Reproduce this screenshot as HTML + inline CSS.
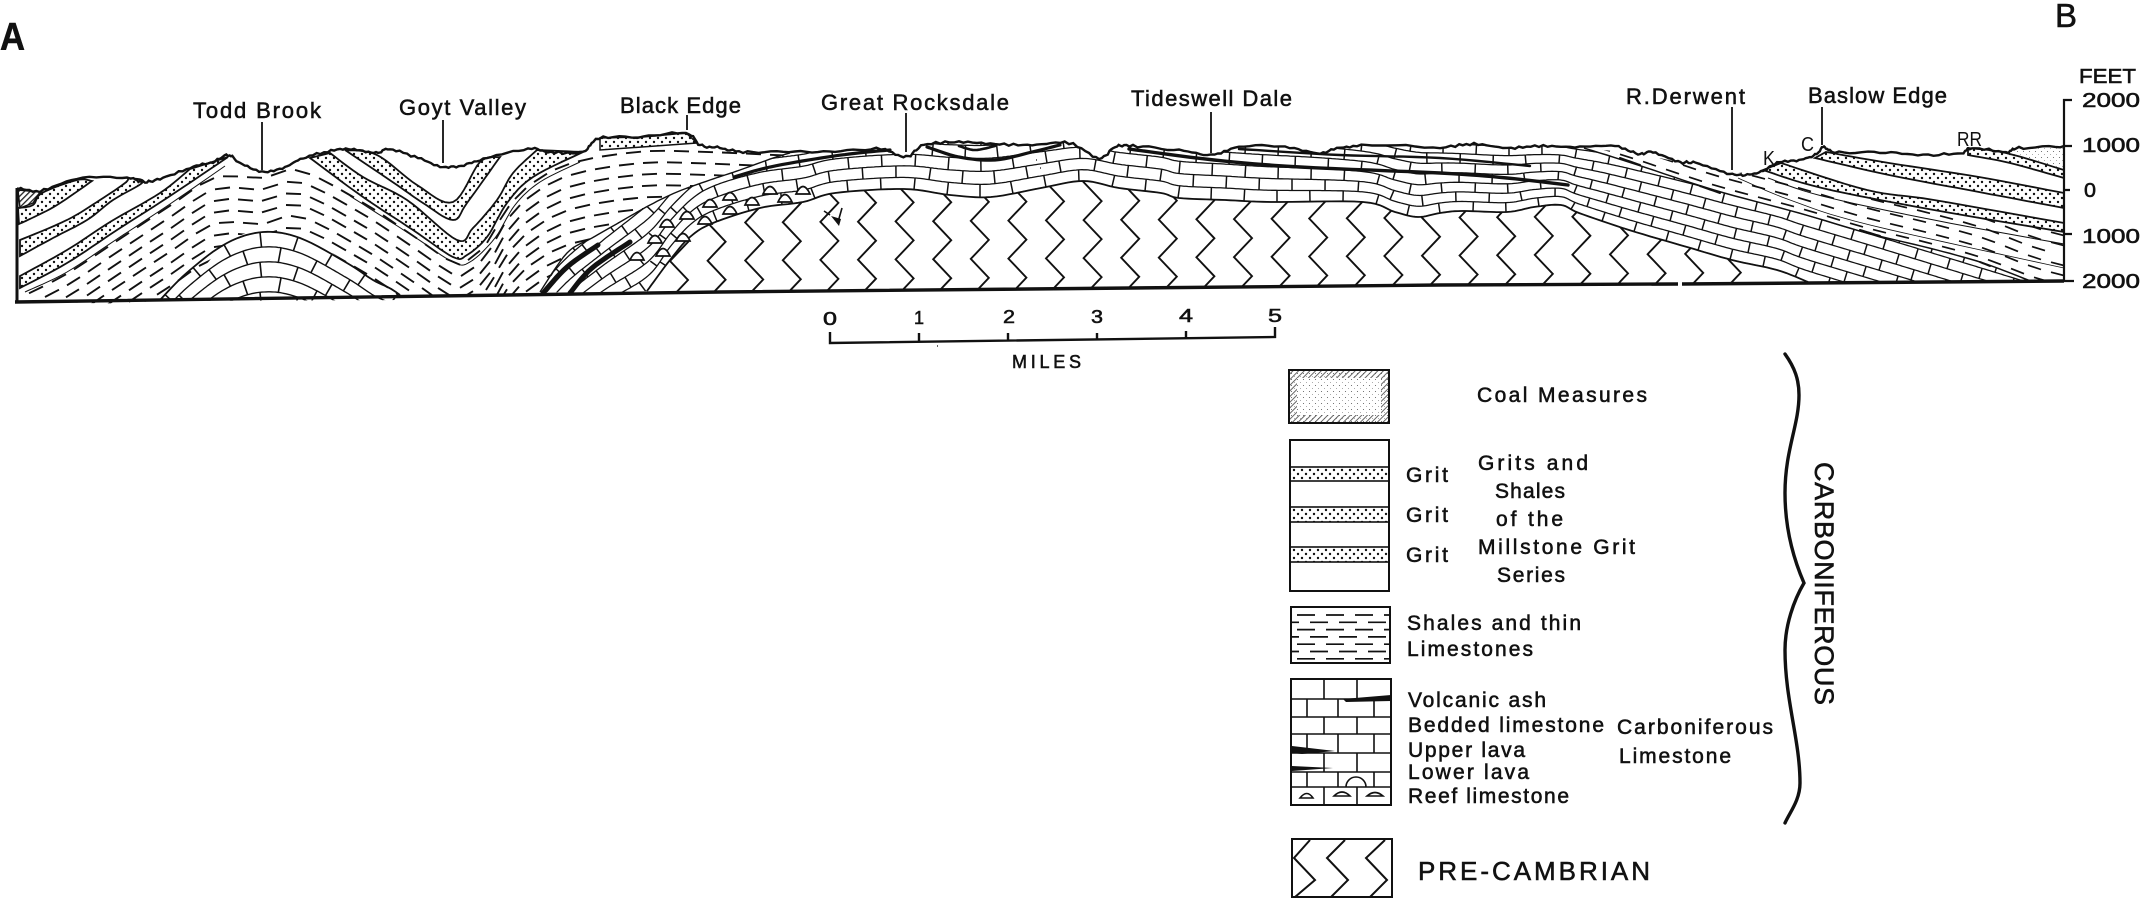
<!DOCTYPE html>
<html>
<head>
<meta charset="utf-8">
<title>Geological section A-B</title>
<style>
html,body{margin:0;padding:0;background:#fff}
svg{display:block}
text{font-family:"Liberation Sans",sans-serif;fill:#111;stroke:#111;stroke-width:.55}
</style>
</head>
<body>
<svg id="s" xmlns="http://www.w3.org/2000/svg" width="2144" height="900" viewBox="0 0 2144 900">
<defs>
<pattern id="dots" width="8" height="8" patternUnits="userSpaceOnUse"><circle cx="2" cy="2" r="1.2" fill="#111"/><circle cx="6" cy="6" r="1.2" fill="#111"/></pattern>
<pattern id="fine" width="6" height="6" patternUnits="userSpaceOnUse"><circle cx="1.5" cy="1.5" r=".55" fill="#555"/><circle cx="4.5" cy="4.5" r=".45" fill="#888"/></pattern>
<pattern id="hatch" width="4" height="4" patternUnits="userSpaceOnUse" patternTransform="rotate(-45)"><rect width="4" height="1.3" fill="#222"/></pattern>
<pattern id="hatchL" width="4" height="4" patternUnits="userSpaceOnUse" patternTransform="rotate(-45)"><rect width="4" height=".9" fill="#555"/></pattern>
</defs>
<g id="geo"></g>

<g fill="none" stroke="#111" stroke-width="1.8">
<path d="M262 122V170M443 120V163M687 115V130M906 113V152M1211 112V153M1732 107V170M1822 107V145"/>
<path d="M2072 100H2064V282M2064 146H2072M2064 190H2070M2064 234H2072M2064 281H2074" stroke-width="2.2"/>
<path d="M830 332V343L1275 337V327M919 333V341M1008 333V340M1097 333V339M1186 331V338" stroke-width="2.4"/>
</g>

<text x="0" y="50" font-size="39" font-weight="bold" textLength="25" lengthAdjust="spacingAndGlyphs">A</text>
<text x="2055" y="27" font-size="33" textLength="22" lengthAdjust="spacingAndGlyphs">B</text>
<g font-size="22">
<text x="193" y="118" textLength="128" lengthAdjust="spacing">Todd Brook</text>
<text x="399" y="115" textLength="127" lengthAdjust="spacing">Goyt Valley</text>
<text x="620" y="113" textLength="121" lengthAdjust="spacing">Black Edge</text>
<text x="821" y="110" textLength="188" lengthAdjust="spacing">Great Rocksdale</text>
<text x="1131" y="106" textLength="161" lengthAdjust="spacing">Tideswell Dale</text>
<text x="1626" y="104" textLength="119" lengthAdjust="spacing">R.Derwent</text>
<text x="1808" y="103" textLength="139" lengthAdjust="spacing">Baslow Edge</text>
</g>
<text x="1763" y="165" font-size="20" style="stroke-width:0" textLength="12" lengthAdjust="spacingAndGlyphs">K</text>
<text x="1801" y="151" font-size="20" style="stroke-width:0" textLength="13" lengthAdjust="spacingAndGlyphs">C</text>
<text x="1957" y="146" font-size="20" style="stroke-width:0" textLength="25" lengthAdjust="spacingAndGlyphs">RR</text>
<text x="2079" y="83" font-size="20" textLength="57" lengthAdjust="spacingAndGlyphs">FEET</text>
<text x="2082" y="107" font-size="20" textLength="58" lengthAdjust="spacingAndGlyphs">2000</text>
<text x="2082" y="152" font-size="20" textLength="58" lengthAdjust="spacingAndGlyphs">1000</text>
<text x="2084" y="197" font-size="20" textLength="12" lengthAdjust="spacingAndGlyphs">0</text>
<text x="2082" y="243" font-size="20" textLength="58" lengthAdjust="spacingAndGlyphs">1000</text>
<text x="2082" y="288" font-size="20" textLength="58" lengthAdjust="spacingAndGlyphs">2000</text>

<g font-size="18">
<text x="823" y="325" textLength="14" lengthAdjust="spacingAndGlyphs">0</text>
<text x="914" y="324" textLength="10" lengthAdjust="spacingAndGlyphs">1</text>
<text x="1003" y="323" textLength="12" lengthAdjust="spacingAndGlyphs">2</text>
<text x="1091" y="323" textLength="12" lengthAdjust="spacingAndGlyphs">3</text>
<text x="1179" y="322" textLength="14" lengthAdjust="spacingAndGlyphs">4</text>
<text x="1268" y="322" textLength="14" lengthAdjust="spacingAndGlyphs">5</text>
<text x="1012" y="368" textLength="69" lengthAdjust="spacing">MILES</text>
</g>

<g id="legend">
<rect x="1289" y="370" width="100" height="53" fill="url(#fine)"/>
<rect x="1293" y="374" width="92" height="45" fill="none" stroke="url(#hatchL)" stroke-width="8"/>
<rect x="1289" y="370" width="100" height="53" fill="none" stroke="#111" stroke-width="2"/>
<rect x="1290" y="440" width="99" height="151" fill="#fff" stroke="#111" stroke-width="2"/>
<g stroke="#111" stroke-width="1.6" fill="url(#dots)">
<rect x="1290" y="467" width="99" height="14"/>
<rect x="1290" y="507" width="99" height="15"/>
<rect x="1290" y="547" width="99" height="15"/>
</g>
<rect x="1291" y="607" width="99" height="56" fill="#fff" stroke="#111" stroke-width="2"/>
<rect x="1291" y="679" width="100" height="126" fill="#fff" stroke="#111" stroke-width="2"/>
<path fill="none" stroke="#111" stroke-width="1.6" d="M1291 699H1391M1291 717H1391M1291 734H1391M1291 753H1391M1291 772H1391M1291 787H1391
M1324 679V699M1357 679V699M1307 699V717M1338 699V717M1374 699V717M1324 717V734M1357 717V734M1307 734V753M1338 734V753M1374 734V753M1324 753V772M1357 753V772M1307 772V787M1338 772V787M1374 772V787M1324 787V805M1357 787V805
M1346 787A10 10 0 0 1 1366 787M1300 798Q1307 789 1313 798ZM1334 796Q1342 788 1350 796ZM1367 796Q1375 789 1383 796Z"/>
<path fill="#111" d="M1343 699L1391 695V701L1346 702ZM1292 746L1335 751L1302 754L1292 753ZM1292 766L1333 768L1292 771Z"/>
<rect x="1292" y="839" width="100" height="58" fill="#fff" stroke="#111" stroke-width="2"/>
<path fill="none" stroke="#111" stroke-width="2" d="M1310 840L1294 858L1315 880L1295 897M1345 840L1327 858L1348 880L1331 897M1385 840L1366 858L1387 880L1370 897"/>
<path fill="none" stroke="#111" stroke-width="3.4" stroke-linecap="round" d="M1785 354C1795 368 1799 380 1799 395C1799 425 1785 450 1785 493C1785 530 1794 560 1804 583C1794 600 1785 625 1785 650C1785 700 1800 740 1800 783C1800 800 1790 812 1785 823"/>
<g font-size="21">
<text x="1477" y="402" textLength="170" lengthAdjust="spacing">Coal Measures</text>
<text x="1478" y="470" textLength="110" lengthAdjust="spacing">Grits and</text>
<text x="1495" y="498" textLength="70" lengthAdjust="spacing">Shales</text>
<text x="1496" y="526" textLength="67" lengthAdjust="spacing">of the</text>
<text x="1478" y="554" textLength="157" lengthAdjust="spacing">Millstone Grit</text>
<text x="1497" y="582" textLength="68" lengthAdjust="spacing">Series</text>
<text x="1406" y="482" textLength="42" lengthAdjust="spacing">Grit</text>
<text x="1406" y="522" textLength="42" lengthAdjust="spacing">Grit</text>
<text x="1406" y="562" textLength="42" lengthAdjust="spacing">Grit</text>
<text x="1407" y="630" textLength="174" lengthAdjust="spacing">Shales and thin</text>
<text x="1407" y="656" textLength="126" lengthAdjust="spacing">Limestones</text>
<text x="1408" y="707" textLength="138" lengthAdjust="spacing">Volcanic ash</text>
<text x="1408" y="732" textLength="196" lengthAdjust="spacing">Bedded limestone</text>
<text x="1408" y="757" textLength="117" lengthAdjust="spacing">Upper lava</text>
<text x="1408" y="779" textLength="121" lengthAdjust="spacing">Lower lava</text>
<text x="1408" y="803" textLength="161" lengthAdjust="spacing">Reef limestone</text>
<text x="1617" y="734" textLength="156" lengthAdjust="spacing">Carboniferous</text>
<text x="1619" y="763" textLength="112" lengthAdjust="spacing">Limestone</text>
</g>
<text x="1418" y="880" font-size="26" textLength="232" lengthAdjust="spacing">PRE-CAMBRIAN</text>
<text transform="translate(1815,462) rotate(90)" font-size="27" textLength="243" lengthAdjust="spacing">CARBONIFEROUS</text>
</g>
</svg>
<script>
(function(){
var NS="http://www.w3.org/2000/svg",geo=document.getElementById("geo"),legend=document.getElementById("legend"),defs=document.querySelector("defs"),uid=0;
function cr(p){var o=[],n=p.length;for(var i=0;i<n-1;i++){var a=p[Math.max(i-1,0)],b=p[i],c=p[i+1],d=p[Math.min(i+2,n-1)];for(var j=0;j<8;j++){var t=j/8,t2=t*t,t3=t2*t;o.push([.5*(2*b[0]+(c[0]-a[0])*t+(2*a[0]-5*b[0]+4*c[0]-d[0])*t2+(3*b[0]-a[0]-3*c[0]+d[0])*t3),.5*(2*b[1]+(c[1]-a[1])*t+(2*a[1]-5*b[1]+4*c[1]-d[1])*t2+(3*b[1]-a[1]-3*c[1]+d[1])*t3)]);}}o.push(p[n-1]);return o;}
function F(p){var s=cr(p);return function(x){if(x<=s[0][0])return s[0][1];for(var i=1;i<s.length;i++){if(s[i][0]>=x){var a=s[i-1],b=s[i],w=b[0]-a[0];return w<=0?b[1]:a[1]+(b[1]-a[1])*(x-a[0])/w;}}return s[s.length-1][1];};}
function d(a,z){return "M"+a.map(function(q){return q[0].toFixed(1)+" "+q[1].toFixed(1);}).join("L")+(z?"Z":"");}
function P(dd,attr,parent){var e=document.createElementNS(NS,"path");e.setAttribute("d",dd);e.setAttribute("fill","none");for(var k in attr)e.setAttribute(k,attr[k]);(parent||geo).appendChild(e);return e;}
function clip(a){var c=document.createElementNS(NS,"clipPath"),id="c"+(++uid);c.setAttribute("id",id);var e=document.createElementNS(NS,"path");e.setAttribute("d",d(a,1));c.appendChild(e);defs.appendChild(c);return "url(#"+id+")";}
var K="#111";
var surface=[[17,188],[40,191],[77,179],[127,178],[143,182],[160,179],[190,168],[213,162],[228,155],[240,163],[262,172],[285,167],[303,158],[331,151],[354,149],[376,153],[390,149],[418,158],[443,167],[464,165],[487,158],[528,149],[551,152],[583,152],[599,138],[643,137],[686,133],[700,145],[720,148],[743,152],[789,152],[835,151],[881,149],[906,157],[924,145],[959,142],[995,144],[1032,145],[1069,143],[1099,158],[1115,147],[1133,146],[1179,150],[1211,155],[1239,147],[1285,147],[1317,153],[1340,148],[1372,145],[1440,147],[1474,144],[1507,148],[1539,146],[1575,147],[1615,146],[1638,154],[1653,152],[1678,162],[1696,163],[1727,173],[1745,175],[1763,171],[1777,163],[1799,160],[1815,155],[1824,147],[1835,152],[1880,152],[1923,155],[1961,153],[1972,148],[2006,152],[2019,148],[2064,147]];
var surfS=cr(surface);
function poly(a,attr){return P(d(a,1),attr);}
var dotted={fill:"url(#dots)",stroke:K,"stroke-width":1.8};
poly([[18,190],[40,192],[33,203],[20,208]],{fill:"url(#hatch)",stroke:K,"stroke-width":1.4});
poly([[2006,153],[2019,148],[2064,147],[2064,170]],{fill:"url(#fine)"});
poly(cr([[18,208],[33,205],[42,193],[77,180],[92,181]]).concat(cr([[92,181],[57,205],[32,218],[19,224]])),dotted);
poly(cr([[20,240],[67,220],[100,200],[125,183],[128,178]]).concat(cr([[128,178],[143,182],[113,200],[87,220],[53,238],[20,256]])),dotted);
poly(cr([[20,276],[67,250],[110,222],[160,193],[190,169]]).concat(cr([[190,169],[228,157]])).concat(cr([[228,157],[167,198],[117,230],[67,263],[20,288]])),dotted);
poly(cr([[345,150],[377,155],[417,185],[453,202],[480,162],[500,157]]).concat(cr([[500,157],[467,203],[453,220],[423,203],[397,185],[348,152]])),dotted);
poly(cr([[330,153],[363,177],[407,200],[457,240],[473,228],[497,200],[513,173],[537,150]]).concat(cr([[537,150],[583,152]])).concat(cr([[583,152],[533,177],[507,203],[487,237],[467,255],[453,257],[413,230],[363,197],[310,158]])),dotted);
poly([[600,150],[600,138],[643,137],[686,133],[697,143]],{fill:"url(#dots)",stroke:K,"stroke-width":1.5});
poly(cr([[1826,152],[1889,163],[1979,177],[2064,193]]).concat([[2064,208]]).concat(cr([[2064,208],[1979,192],[1889,175],[1815,158]])),dotted);
poly(cr([[1781,163],[1867,190],[1934,200],[2064,223]]).concat([[2064,232]]).concat(cr([[2064,232],[1934,210],[1822,188],[1763,170]])),dotted);
poly(cr([[1968,148],[2006,153],[2064,170]]).concat([[2064,178]]).concat(cr([[2064,178],[2010,163],[1968,155]])),dotted);

function dashes(top,bot,n,x0,x1,dl,gap,sw,cl){var dd="";for(var i=0;i<n;i++){var t=(i+.5)/n,acc=(i*7)%(dl+gap),on=false,px=x0,py=top(x0)+(bot(x0)-top(x0))*t,sx=0,sy=0;for(var x=x0+1;x<=x1;x++){var y=top(x)+(bot(x)-top(x))*t,ds=Math.hypot(x-px,y-py);acc+=ds;if(!on&&acc>=gap){on=true;acc=0;sx=x;sy=y;}else if(on&&acc>=dl){on=false;acc=0;dd+="M"+sx.toFixed(1)+" "+sy.toFixed(1)+"L"+x.toFixed(1)+" "+y.toFixed(1);}px=x;py=y;}}P(dd,{stroke:K,"stroke-width":sw,"clip-path":cl});}
function bricks(row,kA,kB,x0,x1,len,sw,cl){var dd="",jd="";for(var k=kA;k<=kB;k++){var acc=((k%2+2)%2)*len/2;var a=[];for(var x=x0;x<=x1;x+=2)a.push([x,row(k,x)]);dd+=d(a);if(k<kB){for(x=x0;x<x1;x++){var y=row(k,x),s=row(k,x+1)-y;acc+=Math.hypot(1,s);if(acc>=len){acc=0;var dy=row(k+1,x)-y,t=dy/(1+s*s);jd+="M"+x+" "+y.toFixed(1)+"L"+(x-s*t).toFixed(1)+" "+(y+t).toFixed(1);}}}}P(dd,{stroke:K,"stroke-width":sw*.85,"clip-path":cl});P(jd,{stroke:K,"stroke-width":sw,"clip-path":cl});}

var swTop=[[20,292],[67,268],[117,235],[170,200],[228,160],[250,170],[270,172],[300,160],[310,158],[363,197],[413,230],[453,257],[467,255],[487,237],[507,203],[533,177],[573,157],[583,152],[600,150],[697,145],[737,152],[790,153]];
var limW=[[540,292],[567,253],[592,238],[620,222],[650,205],[677,192],[710,180],[740,170],[773,158],[790,153]];
var swBot=[[20,300],[160,299],[227,243],[263,232],[313,243],[347,263],[373,280],[400,295],[460,297],[520,294]].concat(limW);
var stS=cr(swTop),sbS=cr(swBot);
var cW=clip(stS.concat(sbS.slice().reverse()));
var rowTop=F([[20,292],[67,268],[117,235],[170,200],[215,172],[262,172],[300,165],[363,197],[413,230],[453,257],[467,255],[487,237],[507,203],[533,177],[573,157],[640,146],[700,146],[790,150]]);
dashes(rowTop,function(x){return rowTop(x)+12*11.5;},12,20,790,15,9,1.9,cW);
P(d(cr([[25,292],[67,272],[117,239],[170,204],[225,166]])),{stroke:K,"stroke-width":1});
P(d(cr([[350,196],[413,236],[453,262],[470,262],[495,238],[515,205],[540,182],[580,162]])),{stroke:K,"stroke-width":1});
var archTop=[[120,345],[160,300],[190,270],[227,243],[263,232],[300,238],[347,263],[373,280],[400,295],[450,340]];
var A=F(archTop),aS=cr(archTop).filter(function(q){return q[0]>=160&&q[0]<=400;});
var cA=clip(aS.concat([[400,300],[160,301]]));
bricks(function(k,x){return A(x)+k*15;},0,6,140,430,38,1.6,cA);
P(d(aS),{stroke:K,"stroke-width":1.8});

var BLreal=[[647,291],[670,260],[690,237],[713,223],[760,208],[803,202],[835,193],[904,189],[950,195],[991,197],[1041,188],[1083,181],[1119,188],[1161,193],[1179,198],[1225,200],[1271,202],[1363,202],[1395,212],[1418,217],[1440,213],[1462,211],[1507,212],[1534,207],[1561,205],[1579,213],[1629,230],[1687,247],[1732,260],[1777,270],[1808,282]];
var BL=F([[520,400],[560,350],[600,318]].concat(BLreal).concat([[1900,310],[2070,362]]));
var TL=F([[520,290],[560,240],[600,205],[650,160],[680,135],[720,110],[800,95],[900,85],[1000,80],[1100,80],[1200,90],[1300,100],[1440,123],[1560,130],[1640,140],[1800,180],[2070,262]]);
var limE=[[1584,148],[1638,165],[1714,190],[1799,213],[1867,233],[1929,248],[1983,263],[2033,282]];
var midS=surfS.filter(function(q){return q[0]>790&&q[0]<1584;});
var limTopAll=cr(limW).concat(midS).concat(cr(limE));
var blS=cr(BLreal);
var cL=clip(limTopAll.concat([[1808,282]]).concat(blS.slice().reverse()).concat([[600,293]]));
bricks(function(k,x){return BL(x)+(TL(x)-BL(x))*k/9;},0,9,520,2060,33,1.5,cL);
P(d(cr(limW)),{stroke:K,"stroke-width":1.4});
P(d(cr(limE)),{stroke:K,"stroke-width":1.5});

var cP=clip(blS.concat([[1808,283],[1440,286],[720,293],[640,294]]));
var zz="";for(var k=0;k<=28;k++){var x0=670+37.6*k,off=(x0-670)*0.007,pts=[],L=true;for(var yy=147;yy<310;yy+=19){pts.push([L?x0:x0+18,yy-off]);L=!L;}zz+=d(pts);}
P(zz,{stroke:K,"stroke-width":1.9,"clip-path":cP});
P(d(blS),{stroke:K,"stroke-width":1.8});

var esTop=[[1584,148],[1638,154],[1678,162],[1727,173],[1763,172],[1822,188],[1934,210],[2064,232]];
var LE=F(limE.concat([[2070,292]]));
var cE=clip(cr(esTop).concat([[2064,282],[2033,282]]).concat(cr(limE).reverse()));
dashes(function(x){return LE(x)-80;},LE,8,1590,2064,13,10,1.7,cE);
P(d(cr([[1768,178],[1822,196],[1934,220],[2064,244]])),{stroke:K,"stroke-width":1});
P(d(cr([[1738,178],[1790,200],[1870,225],[2064,268]])),{stroke:K,"stroke-width":.8,"clip-path":cE});

function lava(p,w){P(d(cr(p)),{stroke:K,"stroke-width":w,"stroke-linecap":"round"});}
lava([[543,293],[567,267],[598,245]],5);
lava([[570,293],[592,268],[630,242]],5);
lava([[734,177],[770,167],[821,158],[858,153],[890,150]],3.2);
lava([[927,147],[959,157],[995,160],[1032,152],[1060,145]],3.2);
lava([[959,146],[975,150],[995,146]],2.6);
lava([[1129,149],[1214,160],[1300,167],[1440,173],[1507,178],[1568,185]],3.4);
lava([[1239,149],[1340,155],[1440,158],[1530,166]],2.4);
lava([[1620,158],[1640,165]],2);
lava([[1700,186],[1720,193]],2);
lava([[1860,230],[1880,236]],2);lava([[1980,262],[1990,266]],2);

var reef=[[637,256],[655,239],[663,252],[667,223],[683,237],[687,215],[705,220],[710,203],[730,196],[730,210],[752,201],[770,190],[785,198],[803,190]];
var rd="";reef.forEach(function(q){rd+="M"+(q[0]-7)+" "+(q[1]+4)+"Q"+q[0]+" "+(q[1]-11)+" "+(q[0]+7)+" "+(q[1]+4)+"Z";});
P(rd,{fill:"#fff",stroke:K,"stroke-width":1.7});

/* small mark in the Pre-Cambrian */
P("M842 208L838 222M824 211L830 215",{stroke:K,"stroke-width":1.6});
P("M831 216L841 219L839 226Z",{fill:K});

var rough=surfS.map(function(q){var x=q[0];return [x,q[1]+.7*Math.sin(x*.83)+.5*Math.sin(x*2.1)];});
P(d(rough),{stroke:K,"stroke-width":2.4});
P("M17 188V302",{stroke:K,"stroke-width":3});
P("M15 302L720 292L1440 285L1678 284M1682 284L2064 281",{stroke:K,"stroke-width":3.4});
P("M1040 168h1M1036 160h1M937 346h1",{stroke:"#333","stroke-width":1.6});

var ld="";for(var r=0;r<7;r++){var y=615+r*7.3;for(var x=1293+(r%2?-12:4);x<1390;x+=29){var a=Math.max(x,1292),b=Math.min(x+18,1389);if(b>a)ld+="M"+a+" "+y+"H"+b;}}
P(ld,{stroke:K,"stroke-width":1.7},legend);
})();
</script>
</body>
</html>
